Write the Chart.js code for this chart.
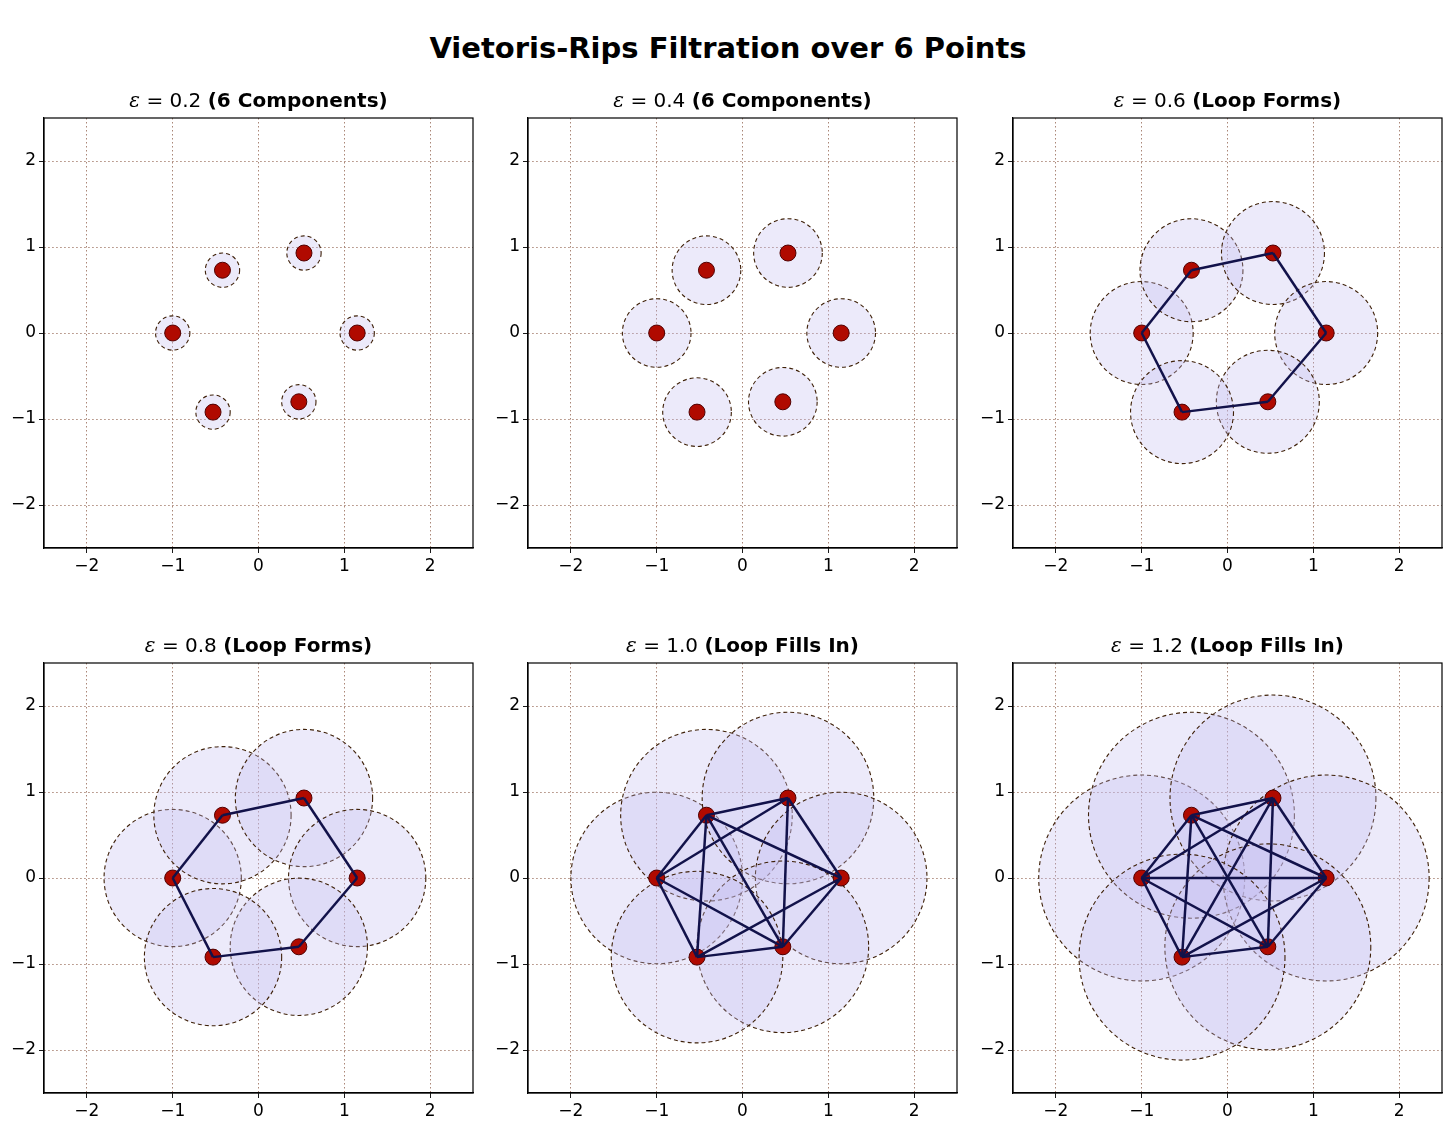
<!DOCTYPE html>
<html><head><meta charset="utf-8">
<script src="https://cdn.jsdelivr.net/npm/chart.js@4"></script>
<style>
body{margin:0;background:#fff;width:1456px;height:1144px;position:relative;font-family:"DejaVu Sans",sans-serif}
#title{position:absolute;top:31px;left:0;width:1456px;text-align:center;font-weight:bold;font-size:29px}
.cell{position:absolute;width:482px;height:510px}
</style></head><body>
<div id="title">Vietoris-Rips Filtration over 6 Points</div>

<script>
// point cloud
const xs = [-1.0, -0.42, 0.53, 1.15, 0.47, -0.53];
const ys = [0.0, 0.73, 0.93, 0.0, -0.8, -0.92];
const epsilons = [0.2, 0.4, 0.6, 0.8, 1.0, 1.2];
const labels = ["6 Components", "6 Components", "Loop Forms", "Loop Forms", "Loop Fills In", "Loop Fills In"];
const ticks = [-2, -1, 0, 1, 2];

const plotLefts = [44, 528, 1013];
const plotTops = [118, 663];

const ballsPlugin = {
  id: "balls",
  beforeDatasetsDraw(chart) {
    const eps = chart.options.plugins.balls.eps;
    const { ctx, chartArea: a, scales: { x, y } } = chart;
    const r = Math.abs(x.getPixelForValue(eps) - x.getPixelForValue(0));
    ctx.save();
    ctx.beginPath();
    ctx.rect(a.left, a.top, a.right - a.left, a.bottom - a.top);
    ctx.clip();
    xs.forEach((px, i) => {
      ctx.beginPath();
      ctx.arc(x.getPixelForValue(px), y.getPixelForValue(ys[i]), r, 0, Math.PI * 2);
      ctx.fillStyle = "rgba(192,186,240,0.3)";
      ctx.fill();
      ctx.setLineDash([4, 3]);
      ctx.lineWidth = 1.1;
      ctx.strokeStyle = "#3e2008";
      ctx.stroke();
    });
    ctx.restore();
  }
};

const headPlugin = {
  id: "head",
  afterDraw(chart) {
    const { eps, label } = chart.options.plugins.head;
    const { ctx, chartArea: a } = chart;
    // frame
    ctx.save();
    ctx.strokeStyle = "#000";
    ctx.lineWidth = 1.2;
    ctx.strokeRect(a.left, a.top, a.right - a.left, a.bottom - a.top);
    const p1 = " = " + eps.toFixed(1) + " ";
    const p2 = "(" + label + ")";
    ctx.textBaseline = "alphabetic";
    ctx.fillStyle = "#000";
    ctx.font = "italic 20px 'DejaVu Serif'";
    const we = ctx.measureText("ε").width;
    ctx.font = "20px 'DejaVu Sans'";
    const w1 = ctx.measureText(p1).width;
    ctx.font = "bold 20px 'DejaVu Sans'";
    const w2 = ctx.measureText(p2).width;
    const sx = (a.left + a.right) / 2 - (we + w1 + w2) / 2;
    ctx.font = "italic 20px 'DejaVu Serif'";
    ctx.fillText("ε", sx, a.top - 11);
    ctx.font = "20px 'DejaVu Sans'";
    ctx.fillText(p1, sx + we, a.top - 11);
    ctx.font = "bold 20px 'DejaVu Sans'";
    ctx.fillText(p2, sx + we + w1, a.top - 11);
    ctx.restore();
  }
};

function buildConfig(eps, label) {
  const datasets = [];
  for (let i = 0; i < xs.length; i++) {
    for (let j = i + 1; j < xs.length; j++) {
      const d = Math.hypot(xs[i] - xs[j], ys[i] - ys[j]);
      if (d <= 2 * eps) {
        datasets.push({
          data: [{ x: xs[i], y: ys[i] }, { x: xs[j], y: ys[j] }],
          showLine: true, borderColor: "#12124a", borderWidth: 2.5,
          pointRadius: 0
        });
      }
    }
  }
  datasets.push({
    data: xs.map((v, i) => ({ x: v, y: ys[i] })),
    backgroundColor: "#b00a00", borderColor: "#500000", borderWidth: 1,
    pointRadius: 8
  });
  const axis = {
    type: "linear", min: -2.5, max: 2.5,
    afterBuildTicks: s => { s.ticks = ticks.map(v => ({ value: v })); },
    ticks: {
      color: "#000", font: { size: 17, family: "DejaVu Sans" },
      callback: v => String(v).replace("-", "\u2212")
    },
    grid: { color: "#a07868", tickColor: "#000", tickLength: 5, lineWidth: 0.9 },
    border: { display: true, color: "#000", width: 1.2, dash: [1.5, 2.5] }
  };
  return {
    type: "scatter",
    data: { datasets },
    options: {
      responsive: false, animation: false,
      layout: { padding: { top: 40, right: 0 } },
      plugins: { legend: { display: false }, tooltip: { enabled: false },
        balls: { eps }, head: { eps, label } },
      scales: {
        x: { ...axis, afterFit: s => { s.height = 40; } },
        y: { ...axis, afterFit: s => { s.width = 44; } }
      }
    },
    plugins: [ballsPlugin, headPlugin]
  };
}

epsilons.forEach((eps, k) => {
  const div = document.createElement("div");
  div.className = "cell";
  div.style.left = (plotLefts[k % 3] - 44) + "px";
  div.style.top = (plotTops[Math.floor(k / 3)] - 40) + "px";
  const c = document.createElement("canvas");
  c.width = 482; c.height = 510;
  div.appendChild(c);
  document.body.appendChild(div);
  new Chart(c, buildConfig(eps, labels[k]));
});
</script>
</body></html>
